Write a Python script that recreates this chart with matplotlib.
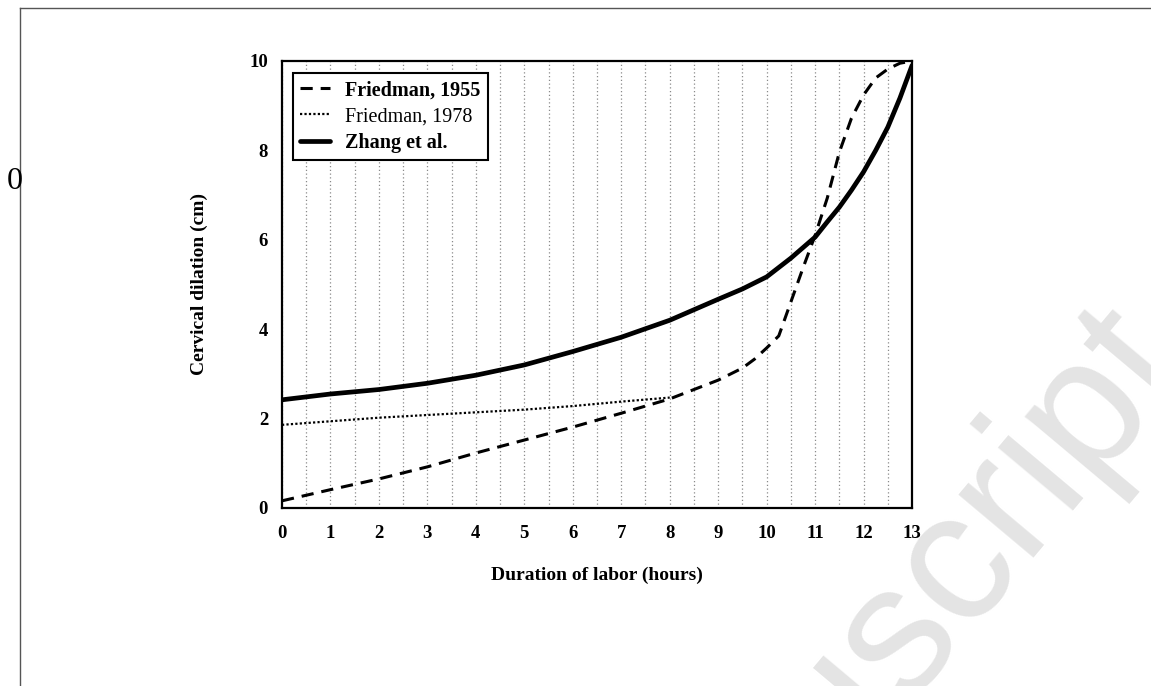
import numpy as np
import matplotlib.pyplot as plt
from matplotlib.lines import Line2D

# values
hours_1955 = [0, 1, 2, 3, 4, 5, 6, 7, 8, 9, 9.5, 9.75, 10, 10.25, 10.5, 10.75, 11, 11.25, 11.5, 11.75, 12, 12.25, 12.5, 12.75, 13]
dil_1955 = [0.16, 0.41, 0.65, 0.92, 1.23, 1.52, 1.81, 2.12, 2.44, 2.86, 3.13, 3.33, 3.58, 3.85, 4.61, 5.37, 6.1, 6.93, 7.96, 8.72, 9.24, 9.62, 9.82, 9.95, 10.0]

hours_1978 = [0, 1, 2, 3, 4, 5, 6, 7, 8]
dil_1978 = [1.86, 1.94, 2.02, 2.08, 2.14, 2.2, 2.28, 2.38, 2.47]

hours_zhang = [0, 1, 2, 3, 4, 5, 6, 7, 8, 9, 9.5, 10, 10.5, 11, 11.25, 11.5, 11.75, 12, 12.25, 12.5, 12.75, 13]
dil_zhang = [2.42, 2.55, 2.65, 2.79, 2.97, 3.2, 3.5, 3.82, 4.2, 4.67, 4.9, 5.17, 5.59, 6.06, 6.4, 6.73, 7.11, 7.52, 8.0, 8.52, 9.17, 9.9]

xticks = list(range(0, 14))
yticks = [0, 2, 4, 6, 8, 10]
labels = ['Friedman, 1955', 'Friedman, 1978', 'Zhang et al.']

serif = 'Liberation Serif'

fig = plt.figure(figsize=(11.51, 6.86), dpi=100)
fig.patch.set_facecolor('white')

# watermark
fig.text(1.035, 0.46, 'Accepted Manuscript', fontsize=133, family='Liberation Sans',
         color='#e4e4e4', rotation=50, rotation_mode='anchor', ha='right', va='baseline', zorder=-1)

# page frame + stray "0"
fig.add_artist(Line2D([0.0174, 0.0174], [0, 0.988], color='#555555', lw=1.0))
fig.add_artist(Line2D([0.0174, 1.0], [0.988, 0.988], color='#555555', lw=1.0))
fig.text(0.013, 0.735, '0', fontsize=23, family=serif, ha='center', va='center')

ax = fig.add_axes([0.245, 0.2595, 0.5474, 0.6516])
ax.set_facecolor('none')

ax.plot(hours_1955, dil_1955, color='black', lw=2.2, linestyle=(0, (4, 2.6)), label=labels[0])
ax.plot(hours_1978, dil_1978, color='black', lw=1.6, linestyle=(0, (1, 1)), label=labels[1])
ax.plot(hours_zhang, dil_zhang, color='black', lw=3.4, solid_capstyle='round', label=labels[2])

ax.set_xlim(0, 13)
ax.set_ylim(0, 10)
ax.set_xticks(xticks)
ax.set_xticks(np.arange(0.5, 13, 1.0), minor=True)
ax.set_yticks(yticks)
ax.grid(True, which='both', axis='x', color='#8a8a8a', lw=0.9, linestyle=(0, (1, 2)))
ax.tick_params(axis='both', which='both', length=0)
ax.tick_params(axis='x', pad=12)
ax.tick_params(axis='y', pad=10)
for t in ax.get_xticklabels() + ax.get_yticklabels():
    t.set_family(serif)
    t.set_fontsize(13.5)
    t.set_fontweight('bold')
for s in ax.spines.values():
    s.set_linewidth(1.6)

ax.set_xlabel('Duration of labor (hours)', fontsize=14, family=serif, fontweight='bold')
ax.set_ylabel('Cervical dilation (cm)', fontsize=14, family=serif, fontweight='bold')
ax.xaxis.set_label_coords(0.5, -0.132)
ax.yaxis.set_label_coords(-0.117, 0.5)

leg = ax.legend(loc='upper left', bbox_to_anchor=(0.0175, 0.973), borderaxespad=0,
                fancybox=False, edgecolor='black', framealpha=1, prop={'family': serif, 'size': 14.5},
                handlelength=1.5, handletextpad=0.75, borderpad=0.35, labelspacing=0.35)
leg.get_frame().set_linewidth(1.5)
leg.get_texts()[0].set_fontweight('bold')
leg.get_texts()[2].set_fontweight('bold')

plt.savefig('out.png', dpi=100)
